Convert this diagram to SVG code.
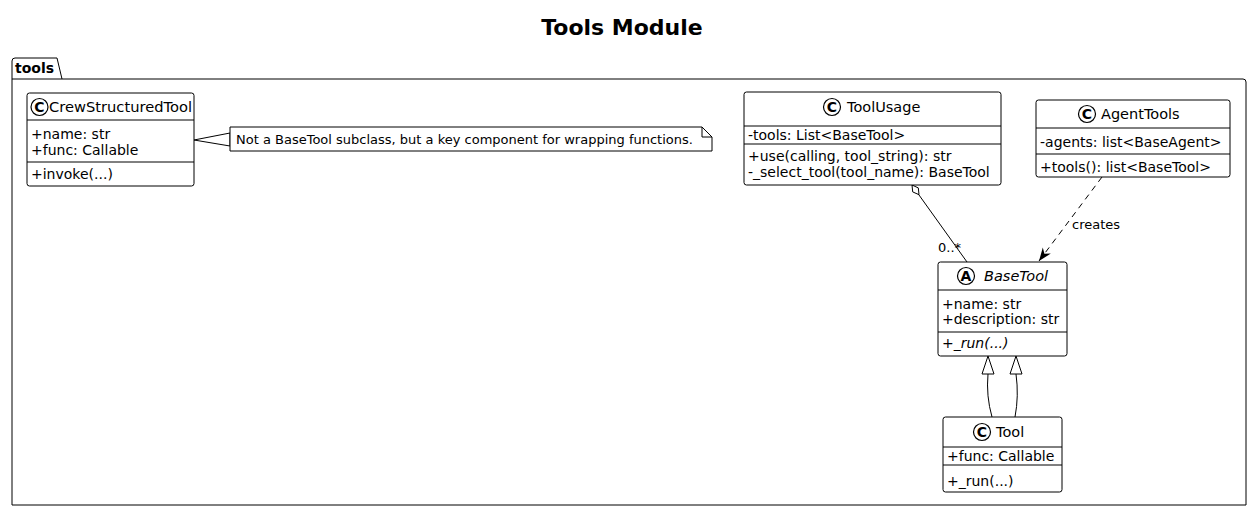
<svg xmlns="http://www.w3.org/2000/svg" width="1252" height="514" viewBox="0 0 1252 514">
<defs>
<style>
text{font-family:"DejaVu Sans",Verdana,sans-serif;fill:#000}
.t{font-size:22px;font-weight:bold}
.pk{font-size:14px;font-weight:bold}
.n{font-size:14.5px}
.m{font-size:14px}
.nt{font-size:13px}
.i{font-style:italic}
.box{fill:#fff;stroke:#000;stroke-width:1}
.ln{stroke:#000;stroke-width:1;fill:none}
.ic{fill:#fff;stroke:#000;stroke-width:1.2}
.il{font-size:14px;font-weight:bold;text-anchor:middle}
</style>
<marker id="dep" markerWidth="14" markerHeight="12" refX="13" refY="5" orient="auto" markerUnits="userSpaceOnUse" viewBox="0 0 14 10">
<path d="M0,0 L13,5 L0,10 L4,5 Z" fill="#000"/>
</marker>
</defs>
<rect width="1252" height="514" fill="#fff"/>
<text class="t" x="622" y="35" text-anchor="middle">Tools Module</text>

<g id="pkg-tools">
<path class="box" d="M12,79 L12,61 Q12,58 15,58 L57,58 L62,79 L1243,79 Q1246,79 1246,82 L1246,505 L12,505 Z"/>
<line class="ln" x1="12" y1="79" x2="62" y2="79"/>
<text class="pk" x="15" y="73">tools</text>
</g>

<g id="connectors">
<polygon points="194,140 230,133 230,146" fill="#fff" stroke="#000"/>
<line class="ln" x1="919" y1="195" x2="967" y2="262"/>
<polygon points="912,185 918.3,187.9 919,194.7 912.7,191.9" fill="#fff" stroke="#000"/>
<text class="nt" x="938" y="252">0..*</text>
<line class="ln" x1="1102" y1="177" x2="1039" y2="261" stroke-dasharray="6,5" marker-end="url(#dep)"/>
<text class="nt" x="1072" y="229">creates</text>
<path class="ln" d="M992,417 Q986,396 988,374"/>
<polygon points="988,356 982,374 994,374" fill="#fff" stroke="#000"/>
<path class="ln" d="M1015,417 Q1019,396 1016,374"/>
<polygon points="1016,356 1010,374 1022,374" fill="#fff" stroke="#000"/>
</g>

<g id="CrewStructuredTool">
<rect class="box" x="27" y="93" width="167" height="93" rx="2.5"/>
<line class="ln" x1="27" y1="120" x2="194" y2="120"/>
<line class="ln" x1="27" y1="162" x2="194" y2="162"/>
<circle class="ic" cx="39.5" cy="107" r="8.5"/>
<text class="il" x="39.5" y="112">C</text>
<text class="n" x="49" y="112" textLength="143" lengthAdjust="spacingAndGlyphs">CrewStructuredTool</text>
<text class="m" x="31" y="139">+name: str</text>
<text class="m" x="31" y="155">+func: Callable</text>
<text class="m" x="31" y="179">+invoke(...)</text>
</g>

<g id="note">
<path class="box" d="M230,127 L702,127 L712,137 L712,151 L230,151 Z"/>
<path class="ln" d="M702,127 L702,137 L712,137"/>
<text class="nt" x="236" y="144">Not a BaseTool subclass, but a key component for wrapping functions.</text>
</g>

<g id="ToolUsage">
<rect class="box" x="744" y="92" width="257" height="93" rx="2.5"/>
<line class="ln" x1="744" y1="126" x2="1001" y2="126"/>
<line class="ln" x1="744" y1="144" x2="1001" y2="144"/>
<circle class="ic" cx="832" cy="107" r="8.5"/>
<text class="il" x="832" y="112">C</text>
<text class="n" x="847" y="112">ToolUsage</text>
<text class="m" x="748" y="140">-tools: List&lt;BaseTool&gt;</text>
<text class="m" x="748" y="161">+use(calling, tool_string): str</text>
<text class="m" x="748" y="177">-_select_tool(tool_name): BaseTool</text>
</g>

<g id="AgentTools">
<rect class="box" x="1036" y="100" width="194" height="77" rx="2.5"/>
<line class="ln" x1="1036" y1="128" x2="1230" y2="128"/>
<line class="ln" x1="1036" y1="154" x2="1230" y2="154"/>
<circle class="ic" cx="1087" cy="114" r="8.5"/>
<text class="il" x="1087" y="119">C</text>
<text class="n" x="1101" y="119">AgentTools</text>
<text class="m" x="1040" y="147">-agents: list&lt;BaseAgent&gt;</text>
<text class="m" x="1040" y="172">+tools(): list&lt;BaseTool&gt;</text>
</g>

<g id="BaseTool">
<rect class="box" x="938" y="262" width="129" height="94" rx="2.5"/>
<line class="ln" x1="938" y1="290" x2="1067" y2="290"/>
<line class="ln" x1="938" y1="332" x2="1067" y2="332"/>
<circle class="ic" cx="966" cy="276" r="8.5"/>
<text class="il" x="966" y="281">A</text>
<text class="n i" x="984" y="281">BaseTool</text>
<text class="m" x="942" y="309">+name: str</text>
<text class="m" x="942" y="324">+description: str</text>
<text class="m i" x="942" y="348">+_run(...)</text>
</g>

<g id="Tool">
<rect class="box" x="943" y="417" width="119" height="75" rx="2.5"/>
<line class="ln" x1="943" y1="447" x2="1062" y2="447"/>
<line class="ln" x1="943" y1="465" x2="1062" y2="465"/>
<circle class="ic" cx="982" cy="432" r="8.5"/>
<text class="il" x="982" y="437">C</text>
<text class="n" x="996" y="437">Tool</text>
<text class="m" x="947" y="461">+func: Callable</text>
<text class="m" x="947" y="486">+_run(...)</text>
</g>
</svg>
